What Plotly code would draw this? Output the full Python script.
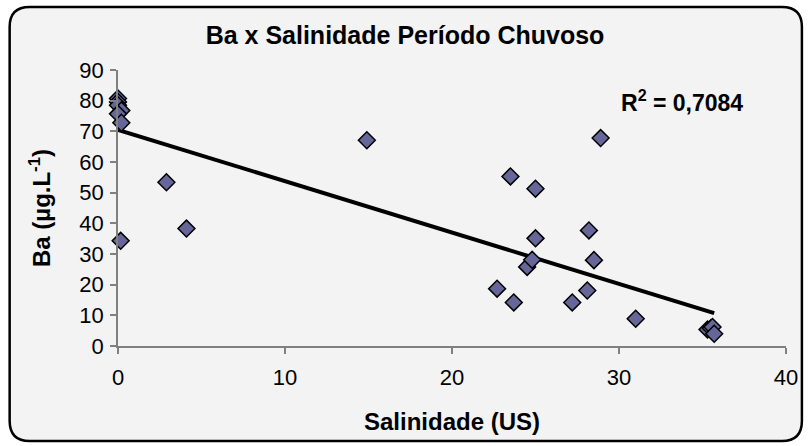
import numpy as np
import plotly.graph_objects as go

# ---- data ----
salinidade = [0.0, 0.0, 0.0, 0.2, 0.0, 0.2, 0.16, 2.9, 4.1, 14.9,
              22.7, 23.5, 23.7, 24.5, 24.8, 25.0, 25.0, 27.2, 28.1, 28.2,
              28.5, 28.9, 31.0, 35.3, 35.5, 35.6, 35.7]
ba = [80.7, 79.6, 78.5, 76.8, 75.7, 72.8, 34.3, 53.4, 38.3, 67.1,
      18.7, 55.3, 14.2, 25.8, 28.1, 35.1, 51.3, 14.2, 18.1, 37.7,
      28.0, 67.8, 8.9, 5.4, 5.8, 6.2, 4.0]
# linear trend line as drawn in the reference (intercept, slope)
trend_intercept = 70.5
trend_slope = -1.675
title_text = "Ba x Salinidade Período Chuvoso"
x_title = "Salinidade (US)"
y_title = "Ba (µg.L<sup>-1</sup>)"
r2_label = "R<sup>2</sup> = 0,7084"
x_ticks = [0, 10, 20, 30, 40]
y_ticks = [0, 10, 20, 30, 40, 50, 60, 70, 80, 90]

xs = np.array(salinidade)
trend_x = np.array([xs.min(), xs.max()])
trend_y = trend_intercept + trend_slope * trend_x

W, H = 810, 446
ML, MR, MT, MB = 118, 20, 70, 100
PW, PH = W - ML - MR, H - MT - MB

def px(xp):
    return (xp - ML) / PW

def py(yp):
    return (H - MB - yp) / PH

def rounded_rect(x0, y0, x1, y1, r):
    pts = [
        ("M", px(x0 + r), py(y0)),
        ("L", px(x1 - r), py(y0)),
        ("Q", px(x1), py(y0), px(x1), py(y0 + r)),
        ("L", px(x1), py(y1 - r)),
        ("Q", px(x1), py(y1), px(x1 - r), py(y1)),
        ("L", px(x0 + r), py(y1)),
        ("Q", px(x0), py(y1), px(x0), py(y1 - r)),
        ("L", px(x0), py(y0 + r)),
        ("Q", px(x0), py(y0), px(x0 + r), py(y0)),
    ]
    s = ""
    for p in pts:
        coords = p[1:]
        s += p[0] + " " + " ".join(
            f"{coords[i]:.5f},{coords[i+1]:.5f}" for i in range(0, len(coords), 2)) + " "
    return s + "Z"

FONT = "Liberation Sans, Arial, sans-serif"

fig = go.Figure()
fig.add_trace(go.Scatter(
    x=trend_x, y=trend_y, mode="lines",
    line=dict(color="black", width=4),
    showlegend=False, hoverinfo="skip"))
fig.add_trace(go.Scatter(
    x=salinidade, y=ba, mode="markers", cliponaxis=False,
    marker=dict(symbol="diamond", size=13, color="#666699",
                line=dict(color="black", width=1.5)),
    showlegend=False, hoverinfo="x+y"))

fig.add_annotation(x=30, y=80, xref="x", yref="y", text=r2_label,
                   showarrow=False, xanchor="left", yanchor="middle",
                   font=dict(family=FONT, size=23, color="black", weight="bold"))

fig.add_shape(type="path", xref="paper", yref="paper",
              path=rounded_rect(9, 7, 806, 441, 20),
              fillcolor="#f3f3f3", line=dict(color="black", width=2.5),
              layer="below")

fig.update_layout(
    width=W, height=H,
    margin=dict(l=ML, r=MR, t=MT, b=MB),
    paper_bgcolor="white", plot_bgcolor="rgba(0,0,0,0)",
    font=dict(family=FONT, color="black"),
    title=dict(text=title_text, x=0.5, xanchor="center", y=0.92, yanchor="middle",
               font=dict(family=FONT, size=25, color="black", weight="bold")),
    xaxis=dict(range=[0, 40], tickvals=x_ticks, showgrid=False, zeroline=False,
               showline=True, linecolor="#808080", linewidth=2,
               ticks="outside", ticklen=6, tickcolor="#808080", tickwidth=1.5,
               tickfont=dict(size=22, color="black"), ticklabelstandoff=5,
               title=dict(text=x_title, standoff=24,
                          font=dict(size=24, color="black", weight="bold"))),
    yaxis=dict(range=[0, 90], tickvals=y_ticks, showgrid=False, zeroline=False,
               showline=True, linecolor="#808080", linewidth=1.5,
               ticks="outside", ticklen=6, tickcolor="#808080", tickwidth=1.5,
               tickfont=dict(size=22, color="black"), ticklabelstandoff=2,
               title=dict(text=y_title, standoff=22,
                          font=dict(size=24, color="black", weight="bold"))),
)

fig.write_html("out.html")
